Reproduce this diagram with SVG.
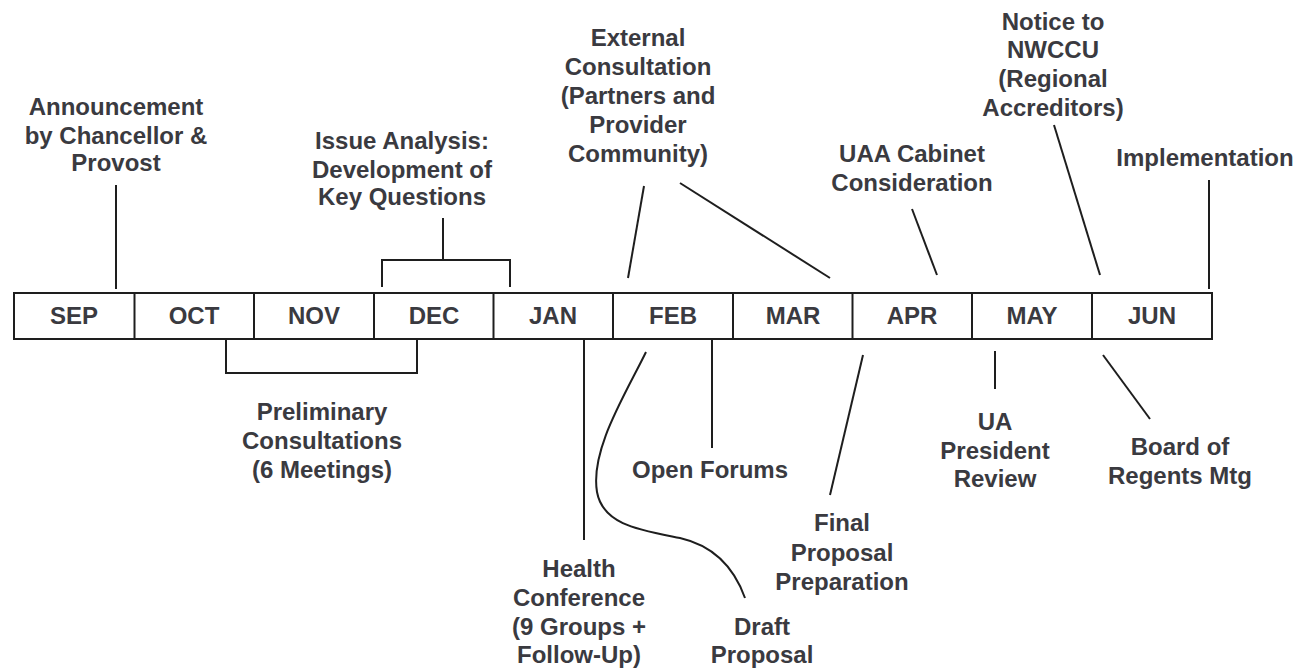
<svg xmlns="http://www.w3.org/2000/svg" width="1310" height="670" viewBox="0 0 1310 670">
<style>
text{font-family:"Liberation Sans",Arial,Helvetica,sans-serif;font-weight:bold;font-size:24px;fill:#3a3a40;text-anchor:middle}
.ln{stroke:#1e1e1e;stroke-width:2;fill:none}
.cell{fill:#fff;stroke:#1e1e1e;stroke-width:2}
</style>
<rect width="1310" height="670" fill="#fff"/>
<g id="timeline">
<rect class="cell" x="14" y="293" width="1198" height="46"/>
<g class="ln">
<line x1="134.5" y1="293" x2="134.5" y2="339"/>
<line x1="254" y1="293" x2="254" y2="339"/>
<line x1="374" y1="293" x2="374" y2="339"/>
<line x1="493.5" y1="293" x2="493.5" y2="339"/>
<line x1="613" y1="293" x2="613" y2="339"/>
<line x1="733" y1="293" x2="733" y2="339"/>
<line x1="852.5" y1="293" x2="852.5" y2="339"/>
<line x1="972" y1="293" x2="972" y2="339"/>
<line x1="1092" y1="293" x2="1092" y2="339"/>
</g>
<text x="74" y="324">SEP</text>
<text x="194" y="324">OCT</text>
<text x="314" y="324">NOV</text>
<text x="434" y="324">DEC</text>
<text x="553" y="324">JAN</text>
<text x="673" y="324">FEB</text>
<text x="793" y="324">MAR</text>
<text x="912" y="324">APR</text>
<text x="1032" y="324">MAY</text>
<text x="1152" y="324">JUN</text>
</g>
<g id="connectors" class="ln">
<line x1="116" y1="185" x2="116" y2="289"/>
<path d="M443,218 V260 M382,287 V260 H510 V287"/>
<line x1="644" y1="186" x2="628" y2="278"/>
<line x1="680" y1="183" x2="830" y2="278"/>
<line x1="912" y1="209" x2="937" y2="275"/>
<line x1="1054" y1="125" x2="1100" y2="275"/>
<line x1="1209" y1="180" x2="1209" y2="289"/>
<path d="M226,339 V373 H417 V339"/>
<line x1="584" y1="339" x2="584" y2="540"/>
<path d="M646,352 C625,395 590,450 597,492 C603,525 640,530 680,538 C715,546 735,570 745,598"/>
<line x1="712" y1="339" x2="712" y2="448"/>
<line x1="863" y1="355" x2="830" y2="495"/>
<line x1="995" y1="351" x2="995" y2="389"/>
<line x1="1103" y1="355" x2="1150" y2="419"/>
</g>
<g id="announcement">
<text x="116" y="115">Announcement</text>
<text x="116" y="144">by Chancellor &amp;</text>
<text x="116" y="171">Provost</text>
</g>
<g id="issue-analysis">
<text x="402" y="149">Issue Analysis:</text>
<text x="402" y="178">Development of</text>
<text x="402" y="205">Key Questions</text>
</g>
<g id="external-consultation">
<text x="638" y="46">External</text>
<text x="638" y="75">Consultation</text>
<text x="638" y="104">(Partners and</text>
<text x="638" y="133">Provider</text>
<text x="638" y="162">Community)</text>
</g>
<g id="uaa-cabinet">
<text x="912" y="162">UAA Cabinet</text>
<text x="912" y="191">Consideration</text>
</g>
<g id="notice-nwccu">
<text x="1053" y="30">Notice to</text>
<text x="1053" y="58">NWCCU</text>
<text x="1053" y="87">(Regional</text>
<text x="1053" y="116">Accreditors)</text>
</g>
<g id="implementation">
<text x="1205" y="166">Implementation</text>
</g>
<g id="preliminary">
<text x="322" y="420">Preliminary</text>
<text x="322" y="449">Consultations</text>
<text x="322" y="478">(6 Meetings)</text>
</g>
<g id="health-conference">
<text x="579" y="577">Health</text>
<text x="579" y="606">Conference</text>
<text x="579" y="635">(9 Groups +</text>
<text x="579" y="663">Follow-Up)</text>
</g>
<g id="draft-proposal">
<text x="762" y="635">Draft</text>
<text x="762" y="663">Proposal</text>
</g>
<g id="open-forums">
<text x="710" y="478">Open Forums</text>
</g>
<g id="final-proposal">
<text x="842" y="531">Final</text>
<text x="842" y="561">Proposal</text>
<text x="842" y="590">Preparation</text>
</g>
<g id="ua-president">
<text x="995" y="430">UA</text>
<text x="995" y="459">President</text>
<text x="995" y="487">Review</text>
</g>
<g id="board-regents">
<text x="1180" y="455">Board of</text>
<text x="1180" y="484">Regents Mtg</text>
</g>
</svg>
